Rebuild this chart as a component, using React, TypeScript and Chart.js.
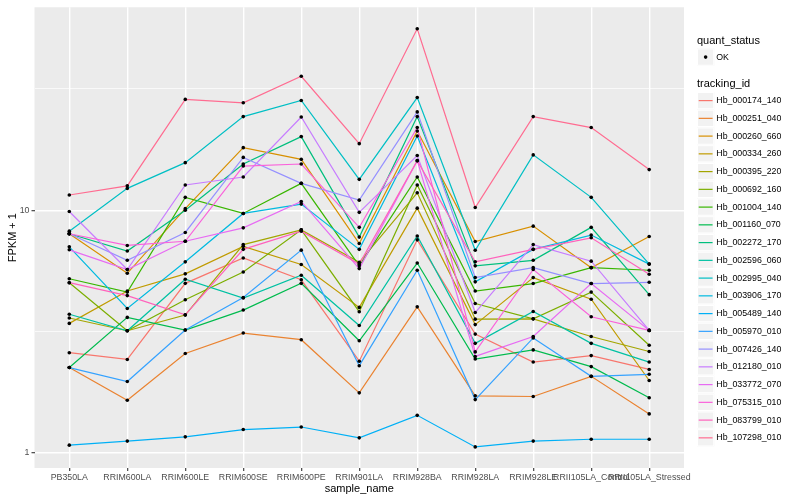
import React, { useEffect, useRef } from "react";
import { Chart, registerables } from "chart.js";

Chart.register(...registerables);

const categories = [
  "PB350LA",
  "RRIM600LA",
  "RRIM600LE",
  "RRIM600SE",
  "RRIM600PE",
  "RRIM901LA",
  "RRIM928BA",
  "RRIM928LA",
  "RRIM928LE",
  "RRII105LA_Control",
  "RRII105LA_Stressed",
];

const trackingIds = [
  "Hb_000174_140",
  "Hb_000251_040",
  "Hb_000260_660",
  "Hb_000334_260",
  "Hb_000395_220",
  "Hb_000692_160",
  "Hb_001004_140",
  "Hb_001160_070",
  "Hb_002272_170",
  "Hb_002596_060",
  "Hb_002995_040",
  "Hb_003906_170",
  "Hb_005489_140",
  "Hb_005970_010",
  "Hb_007426_140",
  "Hb_012180_010",
  "Hb_033772_070",
  "Hb_075315_010",
  "Hb_083799_010",
  "Hb_107298_010",
];

const seriesColors = [
  "#F8766D", "#EA8331", "#D89000", "#C09B00", "#A3A500",
  "#7CAE00", "#39B600", "#00BB4E", "#00BF7D", "#00C1A3",
  "#00BFC4", "#00BAE0", "#00B0F6", "#35A2FF", "#9590FF",
  "#C77CFF", "#E76BF3", "#FA62DB", "#FF62BC", "#FF6C91",
];

const hb000174_140 = [2.59, 2.43, 5.0, 6.36, 5.17, 2.39, 7.55, 3.09, 2.37, 2.52, 2.21];
const hb000251_040 = [2.25, 1.65, 2.57, 3.12, 2.93, 1.77, 4.0, 1.72, 1.71, 2.07, 1.45];
const hb000260_660 = [8.0, 5.5, 10.15, 18.1, 16.2, 7.29, 21.2, 7.43, 8.6, 5.8, 7.8];
const hb000334_260 = [3.42, 4.65, 5.47, 7.1, 5.98, 3.98, 10.2, 3.38, 5.28, 4.3, 1.99];
const hb000395_220 = [3.6, 3.19, 3.7, 7.22, 8.3, 6.1, 11.8, 3.56, 3.57, 3.02, 2.62];
const hb000692_160 = [5.03, 3.19, 4.28, 5.57, 8.3, 3.82, 12.7, 4.13, 3.57, 4.6, 2.78];
const hb001004_140 = [5.22, 4.6, 11.3, 9.7, 12.9, 5.9, 13.7, 4.65, 4.99, 5.8, 5.66];
const hb001160_070 = [2.25, 3.62, 3.21, 3.88, 5.0, 2.9, 6.06, 2.44, 2.66, 2.27, 1.69];
const hb002272_170 = [8.0, 6.79, 10.0, 15.5, 20.1, 7.75, 24.3, 5.9, 6.22, 8.5, 4.49];
const hb002596_060 = [3.73, 3.19, 5.2, 4.35, 5.4, 3.35, 7.83, 2.83, 3.83, 2.83, 2.37];
const hb002995_040 = [8.2, 12.3, 15.7, 24.3, 28.3, 13.4, 29.1, 6.84, 16.9, 11.3, 6.0];
const hb003906_170 = [7.07, 3.94, 6.13, 9.7, 10.6, 6.9, 20.2, 5.07, 6.9, 7.9, 6.0];
const hb005489_140 = [1.078, 1.12, 1.166, 1.25, 1.28, 1.155, 1.43, 1.06, 1.12, 1.14, 1.14];
const hb005970_010 = [2.25, 1.97, 3.21, 4.37, 6.85, 2.29, 5.66, 1.66, 2.98, 2.07, 2.11];
const hb007426_140 = [8.0, 6.22, 8.1, 16.5, 12.9, 11.0, 25.4, 5.28, 5.8, 4.99, 5.05];
const hb012180_010 = [9.88, 5.7, 12.7, 13.7, 24.2, 9.8, 16.8, 3.79, 7.22, 6.17, 3.2];
const hb033772_070 = [6.87, 5.7, 7.45, 8.46, 10.87, 5.75, 16.0, 2.5, 3.02, 4.99, 3.2];
const hb075315_010 = [8.0, 7.16, 7.45, 15.2, 15.5, 8.5, 21.9, 2.61, 5.7, 3.64, 3.2];
const hb083799_010 = [5.03, 4.45, 3.71, 6.9, 8.2, 6.0, 16.0, 6.13, 6.9, 7.7, 5.45];
const hb107298_010 = [11.55, 12.6, 28.6, 27.7, 35.6, 18.8, 55.9, 10.26, 24.3, 21.9, 14.7];

const seriesValues = [
  hb000174_140, hb000251_040, hb000260_660, hb000334_260, hb000395_220,
  hb000692_160, hb001004_140, hb001160_070, hb002272_170, hb002596_060,
  hb002995_040, hb003906_170, hb005489_140, hb005970_010, hb007426_140,
  hb012180_010, hb033772_070, hb075315_010, hb083799_010, hb107298_010,
];

const yMajorTicks = [1, 10];
const yMinorTicks = [3.1623, 31.623];
const quantStatus = ["OK"];

const FONT = '"Liberation Sans", Arial, Helvetica, sans-serif';

export default function App() {
  const ref = useRef<HTMLCanvasElement>(null);

  useEffect(() => {
    document.body.style.margin = "0";
    const canvas = ref.current;
    if (!canvas) return;

    const lineDatasets: any[] = seriesValues.map((vals, i) => ({
      type: "line",
      label: trackingIds[i],
      data: vals.map((v, j) => ({ x: j, y: v })),
      borderColor: seriesColors[i],
      backgroundColor: seriesColors[i],
      borderWidth: 1.2,
      pointRadius: 0,
      pointHoverRadius: 0,
      fill: false,
      tension: 0,
      order: seriesValues.length - i,
    }));

    const pointDataset: any = {
      type: "line",
      label: quantStatus[0],
      data: seriesValues.flatMap((vals) => vals.map((v, j) => ({ x: j, y: v }))),
      showLine: false,
      pointRadius: 1.8,
      pointHoverRadius: 1.8,
      pointBackgroundColor: "#000000",
      pointBorderColor: "#000000",
      pointBorderWidth: 0,
      order: 0,
    };

    const panelBg = {
      id: "panelBg",
      beforeDraw(chart: any) {
        const { ctx, chartArea } = chart;
        ctx.save();
        ctx.fillStyle = "#EBEBEB";
        ctx.fillRect(chartArea.left, chartArea.top, chartArea.right - chartArea.left, chartArea.bottom - chartArea.top);
        ctx.restore();
      },
    };

    const ggLegend = {
      id: "ggLegend",
      afterDraw(chart: any) {
        const { ctx } = chart;
        const x0 = 697;
        const keyW = 17.28;
        ctx.save();
        ctx.textBaseline = "middle";
        ctx.textAlign = "left";
        ctx.fillStyle = "#000000";
        ctx.font = `11px ${FONT}`;
        ctx.fillText("quant_status", x0, 40.7);
        const okCy = 57.1;
        ctx.fillStyle = "#F2F2F2";
        ctx.fillRect(x0, okCy - keyW / 2, keyW, keyW);
        ctx.strokeStyle = "#FFFFFF";
        ctx.lineWidth = 1;
        ctx.strokeRect(x0 + 0.5, okCy - keyW / 2 + 0.5, keyW - 1, keyW - 1);
        ctx.fillStyle = "#000000";
        ctx.beginPath();
        ctx.arc(x0 + keyW / 2, okCy, 1.8, 0, Math.PI * 2);
        ctx.fill();
        ctx.font = `8.8px ${FONT}`;
        ctx.fillText(quantStatus[0], x0 + keyW + 2, okCy);
        ctx.font = `11px ${FONT}`;
        ctx.fillText("tracking_id", x0, 84.3);
        const dsets = chart.data.datasets.filter((d: any) => d.showLine !== false);
        dsets.forEach((d: any, i: number) => {
          const cy = 100.6 + i * 17.75;
          ctx.fillStyle = "#F2F2F2";
          ctx.fillRect(x0, cy - keyW / 2, keyW, keyW);
          ctx.strokeStyle = "#FFFFFF";
          ctx.lineWidth = 1;
          ctx.strokeRect(x0 + 0.5, cy - keyW / 2 + 0.5, keyW - 1, keyW - 1);
          ctx.strokeStyle = d.borderColor;
          ctx.lineWidth = 1.2;
          ctx.beginPath();
          ctx.moveTo(x0 + 1.7, cy);
          ctx.lineTo(x0 + keyW - 1.7, cy);
          ctx.stroke();
          ctx.fillStyle = "#000000";
          ctx.font = `8.8px ${FONT}`;
          ctx.fillText(d.label, x0 + keyW + 2, cy);
        });
        ctx.restore();
      },
    };

    const chart = new Chart(canvas, {
      type: "line",
      data: { datasets: [...lineDatasets, pointDataset] },
      options: {
        animation: false,
        responsive: false,
        maintainAspectRatio: false,
        events: [],
        layout: { padding: { left: 0, top: 5, right: 116, bottom: 0 } },
        plugins: {
          legend: { display: false },
          tooltip: { enabled: false },
        },
        scales: {
          x: {
            type: "linear",
            min: -0.6,
            max: categories.length - 1 + 0.6,
            afterBuildTicks: (scale: any) => {
              scale.ticks = categories.map((_, i) => ({ value: i }));
            },
            afterFit: (scale: any) => {
              scale.height = 32;
            },
            border: { display: false },
            grid: {
              color: "#FFFFFF",
              lineWidth: 1.4,
              tickColor: "#333333",
              tickLength: 3,
              tickWidth: 1.1,
            },
            ticks: {
              autoSkip: false,
              maxRotation: 0,
              minRotation: 0,
              padding: 1.5,
              color: "#4D4D4D",
              font: { family: FONT, size: 8.8 },
              callback: (v: any) => categories[v] ?? "",
            },
            title: {
              display: true,
              text: "sample_name",
              color: "#000000",
              font: { family: FONT, size: 11 },
              padding: { top: 0, bottom: 4 },
            },
          },
          y: {
            type: "logarithmic",
            min: 0.868,
            max: 68.5,
            afterBuildTicks: (scale: any) => {
              scale.ticks = [...yMajorTicks, ...yMinorTicks]
                .sort((a, b) => a - b)
                .map((v) => ({ value: v }));
            },
            afterFit: (scale: any) => {
              scale.width = 34.5;
            },
            border: { display: false },
            grid: {
              color: "#FFFFFF",
              lineWidth: (c: any) => (yMajorTicks.includes(c.tick?.value) ? 1.4 : 0.7),
              tickColor: (c: any) => (yMajorTicks.includes(c.tick?.value) ? "#333333" : "rgba(0,0,0,0)"),
              tickLength: 3,
              tickWidth: 1.1,
            },
            ticks: {
              padding: 2,
              color: "#4D4D4D",
              font: { family: FONT, size: 8.8 },
              callback: (v: any) => (yMajorTicks.includes(v) ? String(v) : ""),
            },
            title: {
              display: true,
              text: "FPKM + 1",
              color: "#000000",
              font: { family: FONT, size: 11 },
              padding: { top: 6, bottom: 0 },
            },
          },
        },
      },
      plugins: [panelBg, ggLegend],
    } as any);

    return () => chart.destroy();
  }, []);

  return <canvas ref={ref} width={800} height={500} style={{ display: "block", width: 800, height: 500 }} />;
}
